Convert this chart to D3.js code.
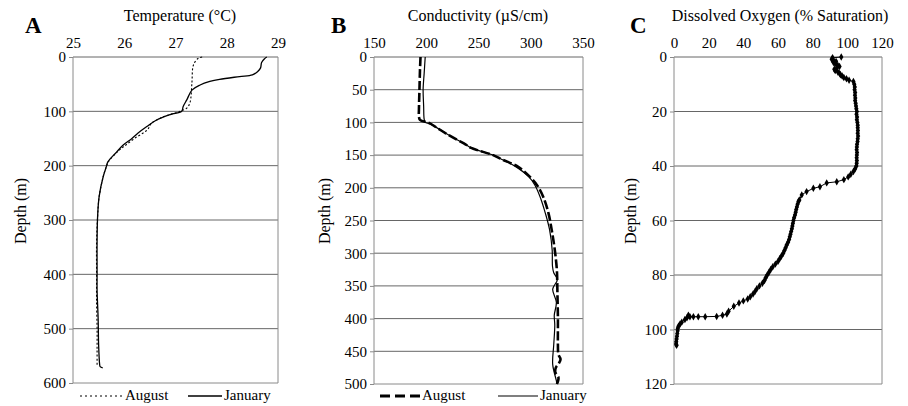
<!DOCTYPE html>
<html>
<head>
<meta charset="utf-8">
<script src="https://cdn.jsdelivr.net/npm/d3@7"></script>
<style>
  html, body { margin: 0; padding: 0; background: #fff; }
  svg { display: block; }
  svg text { font-family: "Liberation Serif", "Times New Roman", Tinos, "DejaVu Serif", serif !important; fill: #000; }
</style>
</head>
<body>
<svg id="chart" width="908" height="406"></svg>
<script>
// ---- Panel A: temperature profiles (°C vs depth, m)
const tempJanDepth = [0, 3, 10, 20, 27, 33, 36, 41, 45, 51.5, 61, 79, 91, 100, 106, 116, 128, 140, 150, 162, 175, 193, 202, 220, 257, 294, 340, 400, 430, 480, 530, 566, 570, 572];
const tempJan      = [28.78, 28.74, 28.68, 28.66, 28.6, 28.5, 28.25, 27.86, 27.67, 27.48, 27.32, 27.22, 27.15, 27.12, 26.9, 26.63, 26.44, 26.27, 26.15, 25.98, 25.85, 25.68, 25.65, 25.59, 25.51, 25.48, 25.47, 25.47, 25.47, 25.49, 25.5, 25.52, 25.53, 25.58];
const tempAugDepth = [0, 2, 9, 18, 48, 85, 94, 100, 110, 113, 122, 134, 150, 165, 175, 193, 202, 220, 257, 294, 340, 400, 450, 500, 540, 568];
const tempAug      = [27.52, 27.45, 27.38, 27.34, 27.32, 27.28, 27.22, 27.09, 26.76, 26.7, 26.53, 26.45, 26.2, 25.99, 25.86, 25.69, 25.65, 25.59, 25.51, 25.48, 25.46, 25.46, 25.46, 25.47, 25.47, 25.47];
const tempTicks    = [25, 26, 27, 28, 29];
const tempDepthTicks = [0, 100, 200, 300, 400, 500, 600];

// ---- Panel B: conductivity profiles (µS/cm vs depth, m)
const condAugDepth = [0, 20, 50, 80, 91, 96, 101, 108, 117, 127, 132, 139, 150, 157, 168, 183, 196, 214, 239, 264, 295, 326, 360, 400, 440, 455, 462, 468, 475, 482, 490, 496, 500];
const condAug      = [194.5, 194, 193.5, 193, 193, 194, 203, 210, 219, 230, 236, 243, 264, 273, 288, 299, 306, 312, 317, 320, 323, 325, 325.5, 326, 326, 326.5, 328.5, 327, 324, 323.5, 326.5, 326, 325];
const condJanDepth = [0, 25, 50, 75, 95, 100, 102, 108, 117, 127, 132, 139, 150, 157, 168, 183, 196, 214, 239, 264, 295, 320, 330, 340, 355, 375, 395, 410, 440, 470, 495, 500];
const condJan      = [199, 198, 197, 197.5, 198, 199, 203, 210, 219, 230, 236, 243, 264, 273, 286, 298, 304, 309, 314, 318, 320.5, 320.8, 322, 325.5, 321, 324.5, 322.5, 323, 322, 321, 324.5, 325];
const condTicks    = [150, 200, 250, 300, 350];
const condDepthTicks = [0, 50, 100, 150, 200, 250, 300, 350, 400, 450, 500];

// ---- Panel C: dissolved oxygen (% saturation vs depth, m)
const doDepth = [0, 0.3, 0.8, 1.2, 1.6, 2.0, 2.5, 3.0, 3.5, 4.0, 4.5, 5.0, 5.5, 6.0, 6.5, 7.0, 7.5, 8.0, 8.5, 9.0,
  10, 11, 12, 13, 14, 15, 16, 17, 18, 19, 20, 21, 22, 23, 24, 25, 26, 27, 28, 29, 30,
  31, 32, 33, 34, 35, 36, 37, 38, 39, 40, 41, 42, 43, 44, 45, 45.8, 46.2, 47.6, 48.2, 49.4, 50.6, 52.5,
  53, 54, 55, 56, 57, 58, 59, 60, 61, 62, 63, 64, 65, 66, 67, 68, 69, 70, 71, 72, 73, 74, 75, 76, 77,
  78, 79, 80, 81, 82, 83, 84, 85, 86, 87, 88, 88.8, 89.5, 90.3, 91.5, 93.3, 94.3, 94.8, 95.2, 95.3, 95.3,
  95.3, 95.3, 94.8, 95.7, 96.3, 97.3, 98, 98.8, 99.5, 100.5, 101.5, 102.5, 103.5, 104.5, 105.3, 105.8];
const doValue = [96.5, 91.5, 91, 92, 93.5, 92, 93, 94.5, 95.5, 94, 92.5, 93, 94.5, 95.5, 96, 97, 98, 99.5, 101, 103.5,
  104, 104.3, 104.2, 104.5, 104.4, 104.6, 104.5, 104.8, 105, 105.2, 105.5, 105.3, 105.6, 105.5, 105.8, 106, 106, 106.1, 106, 106.2, 106,
  105.9, 105.6, 105.5, 105.4, 105.6, 105.5, 105.4, 105.5, 105.4, 105.2, 104.5, 103.5, 102, 100.5, 98, 93.9, 88.1, 84.2, 80.4, 76.5, 73.7, 72.3,
  71.8, 71.3, 70.9, 70.5, 70.2, 69.8, 69.3, 68.9, 68.6, 68.3, 68.0, 67.6, 67.2, 66.8, 66.4, 65.8, 65.0, 64.4, 63.7, 63.0, 62.0, 61.0, 60.0, 58.5, 57.0,
  55.8, 54.8, 53.8, 52.9, 52.2, 51.0, 49.3, 47.8, 46.8, 45.6, 44.0, 42.5, 40.0, 37.5, 34.5, 31.5, 30.5, 28, 24.6, 18, 14,
  11.2, 9.2, 8.3, 7.5, 6.3, 4.5, 3.5, 2.6, 2.2, 2.1, 1.9, 1.7, 1.5, 1.3, 1.2, 1.5];
const doTicks = [0, 20, 40, 60, 80, 100, 120];
const doDepthTicks = [0, 20, 40, 60, 80, 100, 120];

const FONT = '"Liberation Serif", "Times New Roman", Tinos, "DejaVu Serif", serif';
const svg = d3.select("#chart");

// Builds one profile panel: frame, gridlines, top value axis, left depth axis, titles.
function panel(opts) {
  const x = d3.scaleLinear().domain(opts.xDomain).range(opts.xRange);
  const y = d3.scaleLinear().domain(opts.yDomain).range(opts.yRange);
  const g = svg.append("g").attr("font-family", FONT);
  const [x0, x1] = opts.xRange;
  const [y0, y1] = opts.yRange;

  // horizontal gridlines
  g.selectAll("line.grid").data(opts.yTicks.slice(0, -1)).join("line")
    .attr("x1", x0).attr("x2", x1)
    .attr("y1", d => y(d)).attr("y2", d => y(d))
    .attr("stroke", "#666").attr("stroke-width", 1);

  // right and bottom frame
  g.append("path")
    .attr("d", `M${x1},${y0}V${y1}H${x0}`)
    .attr("fill", "none").attr("stroke", "#8a8a8a").attr("stroke-width", 1);

  // left depth axis
  const ya = g.append("g").attr("transform", `translate(${x0},0)`)
    .call(d3.axisLeft(y).tickValues(opts.yTicks).tickSize(4).tickPadding(3).tickFormat(d3.format("d")));
  ya.attr("font-family", FONT);
  ya.select(".domain").attr("stroke", "#8a8a8a").attr("d", `M-0,${y0}V${y1}`);
  ya.selectAll(".tick line").attr("stroke", "#8a8a8a");
  ya.selectAll(".tick text").attr("font-size", 15).attr("fill", "#000");

  // top value axis (labels only)
  const xa = g.append("g").attr("transform", `translate(0,${y0})`)
    .call(d3.axisTop(x).tickValues(opts.xTicks).tickSize(0).tickPadding(9).tickFormat(d3.format("d")));
  xa.attr("font-family", FONT);
  xa.select(".domain").remove();
  xa.selectAll(".tick text").attr("font-size", 15).attr("fill", "#000");

  // titles
  g.append("text").attr("x", opts.titleX).attr("y", 21)
    .attr("text-anchor", "middle").attr("font-size", 16).text(opts.title);
  g.append("text").attr("x", opts.letterX).attr("y", 33)
    .attr("font-size", 23).attr("font-weight", "bold").text(opts.letter);
  g.append("text")
    .attr("transform", `translate(${opts.depthLabelX},211) rotate(-90)`)
    .attr("text-anchor", "middle").attr("dy", "0.35em")
    .attr("font-size", 16).text("Depth (m)");

  return { x, y, g };
}

const curve = d3.curveCatmullRom.alpha(0.5);

// ---- A
const A = panel({
  xDomain: [25, 29], xRange: [73, 278], yDomain: [0, 600], yRange: [57, 383],
  xTicks: tempTicks, yTicks: tempDepthTicks,
  title: "Temperature (°C)", titleX: 180, letter: "A", letterX: 25, depthLabelX: 20
});
const lineA = d3.line().curve(curve).x(d => A.x(d[1])).y(d => A.y(d[0]));
A.g.append("path").datum(d3.zip(tempAugDepth, tempAug)).attr("d", lineA)
  .attr("fill", "none").attr("stroke", "#000").attr("stroke-width", 1.1).attr("stroke-dasharray", "2,2");
A.g.append("path").datum(d3.zip(tempJanDepth, tempJan)).attr("d", lineA)
  .attr("fill", "none").attr("stroke", "#000").attr("stroke-width", 1.3);

// ---- B
const B = panel({
  xDomain: [150, 350], xRange: [374, 583], yDomain: [0, 500], yRange: [57, 384],
  xTicks: condTicks, yTicks: condDepthTicks,
  title: "Conductivity (µS/cm)", titleX: 478, letter: "B", letterX: 331, depthLabelX: 324
});
const lineB = d3.line().curve(curve).x(d => B.x(d[1])).y(d => B.y(d[0]));
B.g.append("path").datum(d3.zip(condAugDepth, condAug)).attr("d", lineB)
  .attr("fill", "none").attr("stroke", "#000").attr("stroke-width", 2.6).attr("stroke-dasharray", "9,3");
B.g.append("path").datum(d3.zip(condJanDepth, condJan)).attr("d", lineB)
  .attr("fill", "none").attr("stroke", "#000").attr("stroke-width", 1.2);

// ---- C
const C = panel({
  xDomain: [0, 120], xRange: [674, 882], yDomain: [0, 120], yRange: [57, 384],
  xTicks: doTicks, yTicks: doDepthTicks,
  title: "Dissolved Oxygen (% Saturation)", titleX: 780, letter: "C", letterX: 630, depthLabelX: 630
});
const doPts = d3.zip(doDepth, doValue);
const lineC = d3.line().x(d => C.x(d[1])).y(d => C.y(d[0]));
C.g.append("path").datum(doPts).attr("d", lineC)
  .attr("fill", "none").attr("stroke", "#000").attr("stroke-width", 1);
const diamond = d3.symbol().type(d3.symbolDiamond).size(16);
C.g.selectAll("path.mk").data(doPts).join("path")
  .attr("class", "mk")
  .attr("transform", d => `translate(${C.x(d[1])},${C.y(d[0])})`)
  .attr("d", diamond).attr("fill", "#000");

// ---- legends (panels A and B)
function legendItem(x1, x2, textX, style) {
  const ly = 396;
  const l = svg.append("line").attr("x1", x1).attr("x2", x2).attr("y1", ly).attr("y2", ly)
    .attr("stroke", "#000").attr("stroke-width", style.width);
  if (style.dash) l.attr("stroke-dasharray", style.dash);
  svg.append("text").attr("x", textX).attr("y", 400).attr("font-size", 15)
    .attr("font-family", FONT).text(style.label);
}
legendItem(80, 123, 125, { width: 1.1, dash: "2,3", label: "August" });
legendItem(188, 222, 224, { width: 1.3, label: "January" });
legendItem(380, 420, 422, { width: 3, dash: "10,5", label: "August" });
legendItem(498, 538, 540, { width: 1.2, label: "January" });
</script>
</body>
</html>
